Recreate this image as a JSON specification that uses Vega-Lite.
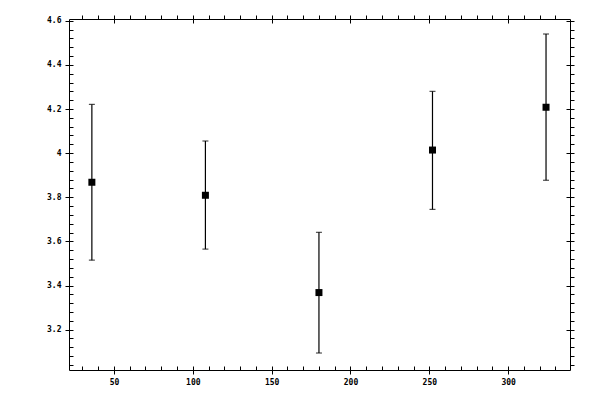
{
  "$schema": "https://vega.github.io/schema/vega-lite/v6.json",
  "width": 501,
  "height": 351,
  "autosize": {"type": "none"},
  "padding": {"left": 69, "top": 19, "right": 30, "bottom": 30},
  "background": "white",
  "config": {
    "view": {"stroke": "black", "strokeWidth": 1},
    "axis": {
      "grid": false,
      "domain": false,
      "title": null,
      "tickColor": "black",
      "tickWidth": 1,
      "labelColor": "black",
      "labelFont": "DejaVu Sans Mono",
      "labelFontSize": 8,
      "labelFontWeight": "bold",
      "labelOverlap": false,
      "labelFlush": false
    }
  },
  "data": {
    "values": [
      {"x": 36, "y": 3.868, "lo": 3.515, "hi": 4.221},
      {"x": 108, "y": 3.809, "lo": 3.565, "hi": 4.055},
      {"x": 180, "y": 3.368, "lo": 3.094, "hi": 3.641},
      {"x": 252, "y": 4.014, "lo": 3.745, "hi": 4.28},
      {"x": 324, "y": 4.208, "lo": 3.877, "hi": 4.54}
    ]
  },
  "resolve": {"axis": {"x": "independent", "y": "independent"}},
  "layer": [
    {
      "mark": {"type": "rule", "color": "black", "strokeWidth": 1.2},
      "encoding": {
        "x": {
          "field": "x", "type": "quantitative",
          "scale": {"domain": [21.5, 339.2], "nice": false, "zero": false},
          "axis": {"orient": "bottom", "values": [50, 100, 150, 200, 250, 300], "offset": -4, "tickSize": 8, "labelPadding": 4}
        },
        "y": {
          "field": "lo", "type": "quantitative",
          "scale": {"domain": [3.017, 4.608], "nice": false, "zero": false},
          "axis": {"orient": "left", "values": [3.2, 3.4, 3.6, 3.8, 4, 4.2, 4.4, 4.6], "offset": -4, "tickSize": 8, "labelPadding": 4, "labelExpr": "format(datum.value, '~g')"}
        },
        "y2": {"field": "hi"}
      }
    },
    {
      "mark": {"type": "tick", "orient": "horizontal", "color": "black", "size": 6, "thickness": 1.2},
      "encoding": {
        "x": {
          "field": "x", "type": "quantitative",
          "scale": {"domain": [21.5, 339.2], "nice": false, "zero": false},
          "axis": {"orient": "bottom", "values": [30, 40, 60, 70, 80, 90, 110, 120, 130, 140, 160, 170, 180, 190, 210, 220, 230, 240, 260, 270, 280, 290, 310, 320, 330], "tickSize": -4, "labels": false}
        },
        "y": {
          "field": "hi", "type": "quantitative",
          "scale": {"domain": [3.017, 4.608], "nice": false, "zero": false},
          "axis": {"orient": "left", "values": [3.04, 3.08, 3.12, 3.16, 3.24, 3.28, 3.32, 3.36, 3.44, 3.48, 3.52, 3.56, 3.64, 3.68, 3.72, 3.76, 3.84, 3.88, 3.92, 3.96, 4.04, 4.08, 4.12, 4.16, 4.24, 4.28, 4.32, 4.36, 4.44, 4.48, 4.52, 4.56], "tickSize": -4, "labels": false}
        }
      }
    },
    {
      "mark": {"type": "tick", "orient": "horizontal", "color": "black", "size": 6, "thickness": 1.2},
      "encoding": {
        "x": {
          "field": "x", "type": "quantitative",
          "scale": {"domain": [21.5, 339.2], "nice": false, "zero": false},
          "axis": {"orient": "top", "values": [50, 100, 150, 200, 250, 300], "offset": -4, "tickSize": 8, "labels": false}
        },
        "y": {
          "field": "lo", "type": "quantitative",
          "scale": {"domain": [3.017, 4.608], "nice": false, "zero": false},
          "axis": {"orient": "right", "values": [3.2, 3.4, 3.6, 3.8, 4, 4.2, 4.4, 4.6], "offset": -4, "tickSize": 8, "labels": false}
        }
      }
    },
    {
      "mark": {"type": "point", "shape": "square", "filled": true, "color": "black", "opacity": 1, "size": 49},
      "encoding": {
        "x": {
          "field": "x", "type": "quantitative",
          "scale": {"domain": [21.5, 339.2], "nice": false, "zero": false},
          "axis": {"orient": "top", "values": [30, 40, 60, 70, 80, 90, 110, 120, 130, 140, 160, 170, 180, 190, 210, 220, 230, 240, 260, 270, 280, 290, 310, 320, 330], "tickSize": 4, "labels": false}
        },
        "y": {
          "field": "y", "type": "quantitative",
          "scale": {"domain": [3.017, 4.608], "nice": false, "zero": false},
          "axis": {"orient": "right", "values": [3.04, 3.08, 3.12, 3.16, 3.24, 3.28, 3.32, 3.36, 3.44, 3.48, 3.52, 3.56, 3.64, 3.68, 3.72, 3.76, 3.84, 3.88, 3.92, 3.96, 4.04, 4.08, 4.12, 4.16, 4.24, 4.28, 4.32, 4.36, 4.44, 4.48, 4.52, 4.56], "tickSize": 4, "labels": false}
        }
      }
    }
  ]
}
